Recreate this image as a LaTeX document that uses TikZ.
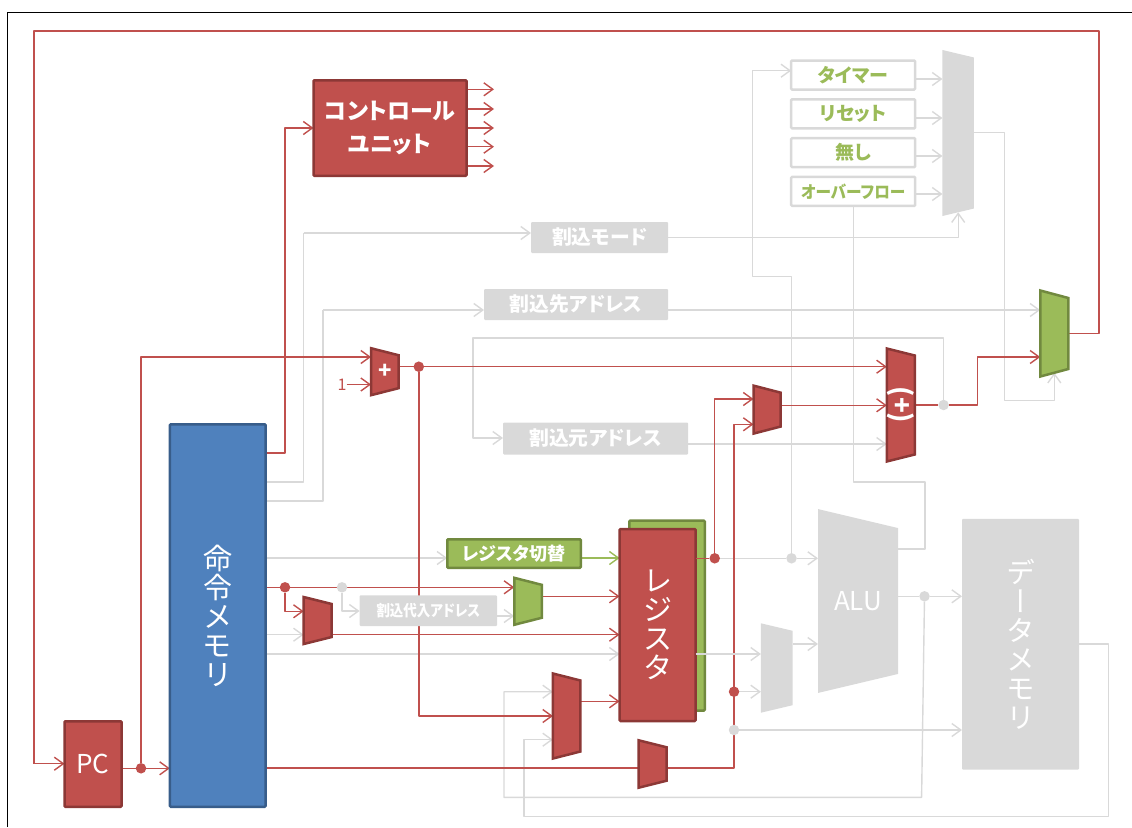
\documentclass[tikz,border=0pt]{standalone}
\usepackage{fontspec}
\setmainfont[RawFeature=+palt]{Noto Sans CJK JP}
\newfontfamily\vertjp[RawFeature=+vert]{Noto Sans CJK JP}
\usepackage{tikz}
\usetikzlibrary{shapes.geometric,arrows.meta,positioning,backgrounds}
\definecolor{unitred}{HTML}{C0504D}
\definecolor{unitredd}{HTML}{8C3836}
\definecolor{unitblue}{HTML}{4F81BD}
\definecolor{unitblued}{HTML}{385D8A}
\definecolor{unitgreen}{HTML}{9BBB59}
\definecolor{unitgreend}{HTML}{71893F}
\definecolor{idle}{HTML}{D9D9D9}
\newcommand{\px}[1]{\fontsize{#1}{#1}\selectfont}
\begin{document}
\begin{tikzpicture}[
  x=1pt, y=-1pt,
  box/.style={rectangle, rounded corners=1pt, inner sep=0pt, outer sep=0pt, align=center, text=white},
  redbox/.style={box, draw=unitredd, line width=2.5pt, fill=unitred},
  bluebox/.style={box, draw=unitblued, line width=2.5pt, fill=unitblue},
  greenbox/.style={box, draw=unitgreend, line width=2.5pt, fill=unitgreen},
  idlebox/.style={box, fill=idle},
  srcbox/.style={box, draw=idle, line width=2.5pt, fill=white, text=unitgreen, minimum width=124pt, minimum height=29pt, font=\px{19}\bfseries},
  tagbox/.style={idlebox, font=\px{19.8}\bfseries},
  mux/.style n args={3}{trapezium, trapezium stretches=true, shape border rotate=270, minimum width=#1pt, minimum height=#2pt,
    trapezium angle={atan(10*(#1-2*#3)/(8*#3))}, text width=10pt, text height=8pt, text depth=0pt, inner sep=0pt, outer sep=0pt},
  redmux/.style={draw=unitredd, line width=2.5pt, fill=unitred},
  greenmux/.style={draw=unitgreend, line width=2.5pt, fill=unitgreen},
  idlemux/.style={fill=idle},
  sign/.style={text=white, inner sep=0pt},
  dot/.style={circle, inner sep=0pt, outer sep=0pt, minimum size=10.5pt},
  reddot/.style={dot, fill=unitred},
  idledot/.style={dot, fill=idle},
  wire/.style={line width=1.4pt, line join=round, unitred},
  arr/.style={wire, -{Straight Barb[length=9pt,width=13pt,line width=1.4pt]}},
  gwire/.style={wire, idle},
  garr/.style={arr, idle},
  grarr/.style={arr, unitgreen},
]
\useasboundingbox (0,0) rectangle (1132,827);
\draw[line width=1.4pt] (7.5,827) -- (7.5,12.5) -- (1132,12.5);

\node[redbox, minimum width=57pt, minimum height=85.5pt, font=\px{26}] (pc) at (93,764) {PC};
\node[bluebox, minimum width=95.7pt, minimum height=382.5pt, font=\px{29}] (imem) at (217.7,615.5) {命\\令\\メ\\モ\\リ};
\node[redbox, minimum width=153pt, minimum height=95.5pt, font=\px{23}\bfseries, align=center] (cu) at (390,128) {コントロール\\[10pt]ユニット};
\node[greenbox, minimum width=75.5pt, minimum height=190pt] (regback) at (667,615.6) {};
\node[redbox, minimum width=76pt, minimum height=192pt, font=\px{29}] (reg) at (657.6,625) {レ\\ジ\\ス\\タ};
\node[greenbox, minimum width=133.5pt, minimum height=28.5pt, font=\px{18}\bfseries] (regsw) at (514,553.5) {レジスタ切替};
\node[idlebox, minimum width=117pt, minimum height=250.7pt, font=\vertjp\px{29}] (dmem) at (1020.5,644.3) {デ\\ー\\タ\\メ\\モ\\リ};

\node[tagbox, minimum width=137pt, minimum height=31pt] (irqmode) at (599.5,237.5) {割込モード};
\node[tagbox, minimum width=184pt, minimum height=31pt] (irqdst) at (576,304.5) {割込先アドレス};
\node[tagbox, minimum width=185pt, minimum height=32pt] (irqsrc) at (595.5,438.5) {割込元アドレス};
\node[idlebox, minimum width=137.4pt, minimum height=30.7pt, font=\px{15.5}\bfseries] (irqsub) at (428.3,610.7) {\scalebox{.87}[1]{割込代入アドレス}};

\node[srcbox] (timer) at (853.2,75) {タイマー};
\node[srcbox, below=9.8pt of timer] (reset) {リセット};
\node[srcbox, below=9.8pt of reset] (none) {無し};
\node[srcbox, below=9.8pt of none, font=\px{17}\bfseries] (ovf) {\scalebox{.92}[1]{オーバーフロー}};

\node[mux={47}{27.5}{7}, redmux] (pcadd) at (384.8,371.7) {};
\node[sign, font=\px{22}\bfseries] (pcsign) at (pcadd.center) {+};
\node[mux={166}{31.5}{7.5}, idlemux] (irqmux) at (958.2,133) {};
\node[mux={86}{28}{7.5}, greenmux] (pcmux) at (1054.3,333.5) {};
\node[mux={113}{28}{7}, redmux] (addr) at (900.8,405) {};
\node[sign, rotate=-90, font=\px{26}\bfseries] (addrsign) at (addr.center) {(+)};
\node[mux={48}{27}{7}, redmux] (brmux) at (767,409.6) {};
\node[mux={89.4}{31.7}{7.5}, idlemux] (bmux) at (776.8,668) {};
\node[mux={184}{80}{19}, idlemux] (alu) at (858,601) {};
\node[sign, font=\px{26}] (alutext) at (alu.center) {ALU};
\node[mux={85}{27.5}{7}, redmux] (wrmux) at (566.7,716) {};
\node[mux={47.5}{28}{7}, redmux] (immux) at (652.5,764) {};
\node[mux={47}{28}{7}, redmux] (rsmux) at (317.7,620.5) {};
\node[mux={47}{27.5}{7}, greenmux] (bankmux) at (528,601.3) {};

\node[text=unitred, font=\px{16}, inner sep=0pt] (one) at (342,384.5) {1};

\node[reddot] (pcdot) at (141,768.3) {};
\node[reddot] (adddot) at (418.8,366.7) {};
\node[reddot] (rddot) at (714.7,558.3) {};
\node[reddot] (rsdot) at (285,587.3) {};
\node[reddot] (immdot) at (734,691.7) {};
\node[idledot] (subdot) at (342,587.3) {};
\node[idledot] (retdot) at (943.6,405) {};
\node[idledot] (rdgdot) at (791.5,558.3) {};
\node[idledot] (aludot) at (924.5,596.3) {};
\node[idledot] (wddot) at (734,730) {};

\begin{scope}[on background layer]
\draw[gwire] (imem.east |- 0,482) -| (303.6,233) coordinate (c1);
\draw[garr] (c1) -- (irqmode.west |- c1);
\draw[gwire] (imem.east |- 0,501) -| (323,310) coordinate (c2);
\draw[garr] (c2) -- (irqdst.west |- c2);
\draw[garr] (irqdst.east |- 0,310) -- (pcmux.west |- 0,310);
\draw[garr] (irqmode.east) -| (irqmux.south);
\draw[garr] (timer.east |- 0,79) -- (irqmux.west |- 0,79);
\draw[garr] (reset.east |- 0,118) -- (irqmux.west |- 0,118);
\draw[garr] (none.east |- 0,156) -- (irqmux.west |- 0,156);
\draw[garr] (ovf.east |- 0,194) -- (irqmux.west |- 0,194);
\draw[garr] (rdgdot) |- (752.6,276.7) |- (timer.west |- 0,70.7);
\draw[gwire] (ovf.south) |- (925,482) |- (alu.east |- 0,549);
\draw[garr] (irqmux.east |- 0,132.7) -| (1004.6,400.7) -| (pcmux.south);
\draw[garr] (retdot) |- (473,338) |- (irqsrc.west |- 0,438);
\draw[garr] (irqsrc.east |- 0,444) -- (addr.west |- 0,444);
\draw[garr] (imem.east |- 0,558) -- (regsw.west |- 0,558);
\draw[garr] (subdot) |- (irqsub.west |- 0,611);
\draw[garr] (irqsub.east |- 0,616) -- (bankmux.west |- 0,616);
\draw[garr] (imem.east |- 0,634.7) -- (rsmux.west |- 0,634.7);
\draw[garr] (imem.east |- 0,654) -- (reg.west |- 0,654);
\draw[garr] (rddot) -- (rdgdot) -- (alu.west |- rdgdot);
\draw[garr] (bmux.east |- 0,644) -- (alu.west |- 0,644);
\draw[garr] (alu.east |- aludot) -- (aludot) -- (dmem.west |- aludot);
\draw[garr] (aludot) -- (921.6,797.3) -| (504,691.7) -- (wrmux.west |- 0,691.7);
\draw[garr] (dmem.east |- 0,644) -| (1108.6,816.7) -| (524,739.7) -- (wrmux.west |- 0,739.7);
\draw[garr] (immdot) -- (bmux.west |- immdot);
\draw[garr] (wddot) -- (dmem.west |- wddot);
\draw[grarr] (regsw.east |- 0,558) -- (reg.west |- 0,558);

\draw[wire] (pcmux.east) -| (1099,31) -| (34,763.7) coordinate (c3);
\draw[arr] (c3) -- (pc.west |- c3);
\draw[arr] (imem.east |- 0,453) -| (285,128) -- (cu.west |- 0,128);
\draw[arr] (cu.east |- 0,89.3) -- (494,89.3);
\draw[arr] (cu.east |- 0,109) -- (494,109);
\draw[arr] (cu.east |- 0,128) -- (494,128);
\draw[arr] (cu.east |- 0,146.7) -- (494,146.7);
\draw[arr] (cu.east |- 0,166) -- (494,166);
\draw[arr] (pc.east |- pcdot) -- (pcdot) -- (imem.west |- pcdot);
\draw[arr] (pcdot) |- (pcadd.west |- 0,357);
\draw[arr] (one) -- (pcadd.west |- one);
\draw[wire] (pcadd.east |- adddot) -- (adddot);
\draw[arr] (adddot) -- (addr.west |- adddot);
\draw[arr] (adddot) |- (wrmux.west |- 0,716);
\draw[arr] (rddot) |- (brmux.west |- 0,399);
\draw[arr] (brmux.east |- 0,405.3) -- (addr.west |- 0,405.3);
\draw[wire] (addr.east |- retdot) -- (retdot);
\draw[arr] (retdot) -- (977.5,405) |- (pcmux.west |- 0,357);
\draw[arr] (imem.east |- rsdot) -- (rsdot) -- (bankmux.west |- rsdot);
\draw[arr] (rsdot) |- (rsmux.west |- 0,611.3);
\draw[arr] (bankmux.east |- 0,596.3) -- (reg.west |- 0,596.3);
\draw[arr] (rsmux.east |- 0,634.7) -- (reg.west |- 0,634.7);
\draw[arr] (wrmux.east |- 0,701.3) -- (reg.west |- 0,701.3);
\draw[wire] (imem.east |- 0,768) -- (immux.west |- 0,768);
\draw[arr] (immux.east |- 0,768) -| (734,424.3) -- (brmux.west |- 0,424.3);
\end{scope}

\draw[wire] (reg.east |- rddot) -- (rddot);
\draw[garr] (reg.east |- 0,654) -- (bmux.west |- 0,654);
\end{tikzpicture}
\end{document}
